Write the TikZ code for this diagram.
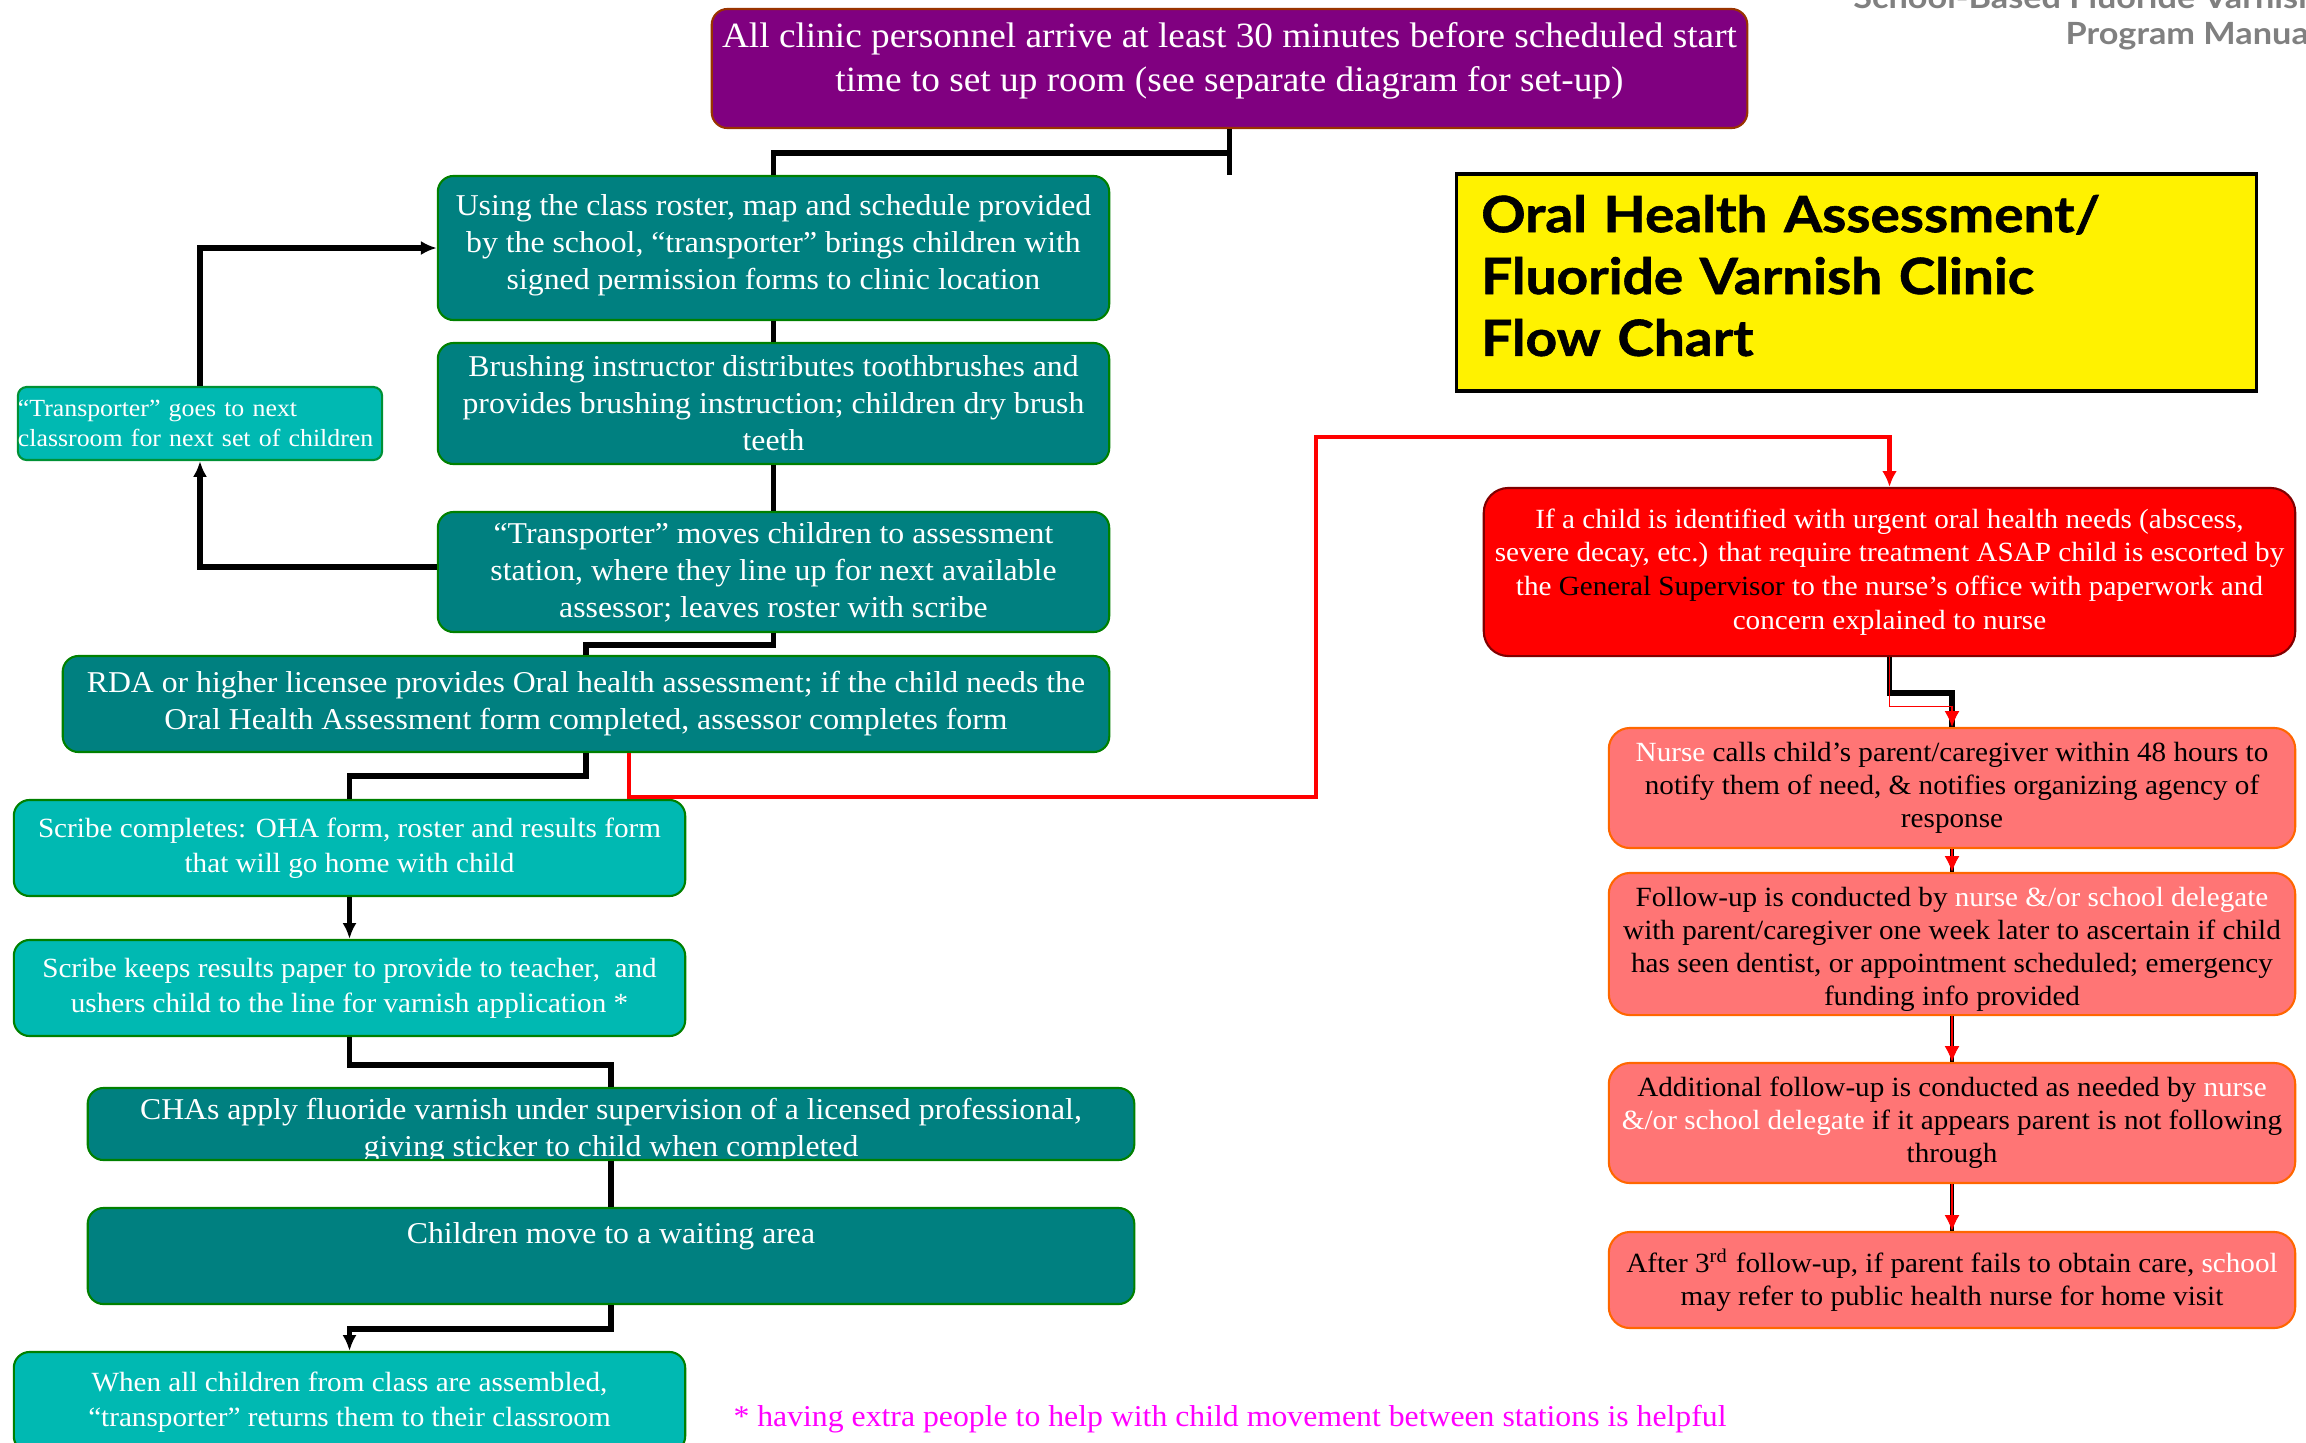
\documentclass[tikz,border=0pt]{standalone}
\usepackage{fontspec}
\setmainfont[FakeStretch=1.05]{Liberation Serif}
\newfontfamily\titlefont[FakeStretch=1.1, BoldFeatures={FakeBold=1.2}]{Lato}
\newfontfamily\hdrfont[FakeStretch=1.12]{Lato}
\usetikzlibrary{arrows.meta, positioning, calc}
\definecolor{arrivefill}{RGB}{128,0,128}
\definecolor{arriveedge}{RGB}{153,51,0}
\definecolor{tealfill}{RGB}{0,128,128}
\definecolor{stepedge}{RGB}{0,128,0}
\definecolor{cyanfill}{RGB}{0,185,178}
\definecolor{urgentfill}{RGB}{255,0,0}
\definecolor{urgentedge}{RGB}{128,0,0}
\definecolor{pinkfill}{RGB}{255,117,117}
\definecolor{pinkedge}{RGB}{255,102,0}
\definecolor{hdrgray}{RGB}{128,128,128}
\definecolor{notepink}{RGB}{255,0,255}
\tikzset{%
	stepbox/.style={draw=stepedge, line width=0.6pt, rounded corners=4.5pt, align=center,%
		text=white, inner sep=0pt},
	tealstep/.style={stepbox, fill=tealfill, font=\fontsize{8.6}{10.5}\selectfont},
	cyanstep/.style={stepbox, fill=cyanfill, font=\fontsize{7.9}{10}\selectfont},
	arrivebox/.style={stepbox, draw=arriveedge, fill=arrivefill, font=\fontsize{10.1}{12.5}\selectfont},
	urgentbox/.style={stepbox, draw=urgentedge, fill=urgentfill, rounded corners=7pt,%
		font=\fontsize{7.9}{9.6}\selectfont},
	pinkbox/.style={stepbox, draw=pinkedge, fill=pinkfill, text=black, rounded corners=6pt,%
		font=\fontsize{7.9}{9.4}\selectfont},
	titlebox/.style={draw=black, line width=0.9pt, fill=yellow, align=left, inner sep=0pt,%
		text width=7.5cm, font=\titlefont\bfseries\fontsize{14.2}{17.6}\selectfont},
	hdr/.style={inner sep=0pt, text=hdrgray, font=\hdrfont\bfseries\fontsize{8.7}{9}\selectfont},
	conn/.style={line width=1.5pt},
	arrow/.style={-{Latex[length=4.5pt, width=4pt]}},
	redline/.style={draw=red, line width=1.2pt, -{Latex[length=4.5pt, width=4.2pt]}},
	redarrow/.style={draw=red, line width=0.3pt, -{Latex[length=4.5pt, width=4.2pt]}}
}
\begin{document}
\begin{tikzpicture}[x=0.01cm, y=-0.01cm]
	\useasboundingbox (0,0) rectangle (2306,1442);
	% header
	\node[hdr, anchor=base east] (hdr1) at (2318,8) {School-Based Fluoride Varnish};
	\node[hdr, anchor=base east] (hdr2) at (2318,44) {Program Manual};
	% left column
	\node[arrivebox, minimum width=10.35cm, minimum height=1.19cm] (arrive) at (1229.5,68.5)
		{All clinic personnel arrive at least 30 minutes before scheduled start\\ time to set up room (see separate diagram for set-up)\\[-6pt]\mbox{}};
	\coordinate (stub) at (1229.5,175);
	\node[tealstep, minimum width=6.71cm, minimum height=1.44cm] (roster) at (773.5,248)
		{Using the class roster, map and schedule provided\\ by the school, “transporter” brings children with\\ signed permission forms to clinic location\\[-7pt]\mbox{}};
	\node[tealstep, minimum width=6.71cm, minimum height=1.21cm] (brush) at (773.5,403.5)
		{Brushing instructor distributes toothbrushes and\\ provides brushing instruction; children dry brush\\ teeth};
	\node[cyanstep, draw=stepedge!70!cyanfill, rounded corners=2.5pt, align=left, text width=3.64cm,%
		minimum height=0.73cm, font=\fontsize{7}{8.5}\selectfont] (nextroom) at (200,423.5)
		{“Transporter” goes to next\\ classroom for next set of children};
	\node[tealstep, minimum width=6.71cm, minimum height=1.2cm] (moves) at (773.5,572)
		{“Transporter” moves children to assessment\\ station, where they line up for next available\\ assessor; leaves roster with scribe};
	\node[tealstep, minimum width=10.46cm, minimum height=0.96cm] (rda) at (586,704)
		{RDA or higher licensee provides Oral health assessment; if the child needs the\\ Oral Health Assessment form completed, assessor completes form};
	\node[cyanstep, minimum width=6.71cm, minimum height=0.96cm] (scribe1) at (349.5,848)
		{Scribe completes: OHA form, roster and results form\\ that will go home with child};
	\node[cyanstep, minimum width=6.71cm, minimum height=0.96cm] (scribe2) at (349.5,988)
		{Scribe keeps results paper to provide to teacher,~ and\\ ushers child to the line for varnish application *};
	\node[tealstep, minimum width=10.46cm, minimum height=0.72cm, path picture={
		\node[align=center, text=white, inner sep=0pt] (cha-t) at ([yshift=-0.065cm]path picture bounding box.center)
			{CHAs apply fluoride varnish under supervision of a licensed professional,\\ giving sticker to child when completed};}] (cha) at (611,1124) {};
	\node[tealstep, minimum width=10.46cm, minimum height=0.96cm] (waiting) at (611,1256)
		{Children move to a waiting area\\[2.5pt]\mbox{}};
	\node[cyanstep, minimum width=6.71cm, minimum height=1cm] (home) at (349.5,1402)
		{When all children from class are assembled,\\ “transporter” returns them to their classroom};
	\node[text=notepink, inner sep=0pt, font=\fontsize{8.6}{10}\selectfont] (star) at (1230,1419)
		{* having extra people to help with child movement between stations is helpful};
	% right column
	\node[titlebox, minimum width=7.99cm, minimum height=2.17cm] (title) at (1856.5,282.5)
		{Oral Health Assessment/\\ Fluoride Varnish Clinic\\ Flow Chart\\[-13.6pt]\mbox{}};
	\node[urgentbox, minimum width=8.11cm, minimum height=1.68cm] (urgent) at (1889.5,572)
		{If a child is identified with urgent oral health needs (abscess,\\ severe decay, etc.) that require treatment ASAP child is escorted by\\ the \textcolor{black}{General Supervisor} to the nurse’s office with paperwork and\\ concern explained to nurse};
	\node[pinkbox, minimum width=6.86cm, minimum height=1.2cm] (nurse) at (1952,788)
		{\textcolor{white}{Nurse} calls child’s parent/caregiver within 48 hours to\\ notify them of need, \& notifies organizing agency of\\ response};
	\node[pinkbox, minimum width=6.86cm, minimum height=1.42cm, path picture={
		\node[align=center, inner sep=0pt] (follow-t) at ([yshift=-0.055cm]path picture bounding box.center)
			{Follow-up is conducted by \textcolor{white}{nurse \&/or school delegate}\\ with parent/caregiver one week later to ascertain if child\\ has seen dentist, or appointment scheduled; emergency\\ funding info provided};}] (follow) at (1952,944) {};
	\node[pinkbox, minimum width=6.86cm, minimum height=1.2cm] (additional) at (1952,1123)
		{Additional follow-up is conducted as needed by \textcolor{white}{nurse}\\ \textcolor{white}{\&/or school delegate} if it appears parent is not following\\ through};
	\node[pinkbox, minimum width=6.86cm, minimum height=0.96cm] (after) at (1952,1280)
		{After 3\textsuperscript{rd} follow-up, if parent fails to obtain care, \textcolor{white}{school}\\ may refer to public health nurse for home visit};

	% connectors
	\draw[conn] (arrive.south) -- (stub);
	\draw[conn] (arrive.south) -- ++(0,24) -| (roster.north);
	\draw[conn] (roster.south) -- (brush.north);
	\draw[conn] (brush.south) -- (moves.north);
	\draw[conn] (moves.south) -- ++(0,12) -| (rda.north);
	\draw[conn] (rda.south) -- ++(0,23) -| (scribe1.north);
	\draw[conn, arrow] (scribe1.south) -- (scribe2.north);
	\draw[conn] (scribe2.south) -- ++(0,28) -| (cha.north);
	\draw[conn] (cha.south) -- (waiting.north);
	\draw[conn, arrow] (waiting.south) -- ++(0,24) -| (home.north);
	\draw[conn, arrow] ([yshift=0.05cm]moves.west) -| (nextroom.south);
	\draw[conn, arrow] (nextroom.north) |- (roster.west);
	\draw[redline] ([xshift=0.43cm]rda.south) -- ++(0,44) -- ++(687,0) |- ([yshift=0.5cm]urgent.north) -- (urgent.north);
	\draw[conn, line width=1.6pt] (urgent.south) -- ++(0,36) -| (nurse.north);
	\draw[redarrow] (urgent.south) -- ++(0,49) -| (nurse.north);
	\foreach \a/\b in {nurse/follow, follow/additional, additional/after} {
		\draw[conn, line width=1.1pt] (\a.south) -- (\b.north);
		\draw[redarrow] (\a.south) -- (\b.north);
	}
\end{tikzpicture}
\end{document}
